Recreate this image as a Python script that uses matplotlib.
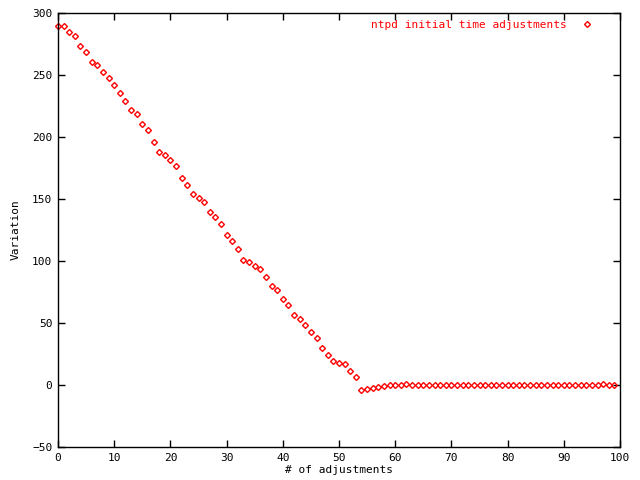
import numpy as np
import matplotlib
matplotlib.use('Agg')
import matplotlib.pyplot as plt

plt.rcParams['font.family'] = ['DejaVu Sans Mono']

# ntpd adjustments, index 0..99
adj_index = list(range(100))
variation = [289.5, 289.5, 284.7, 281.2, 273.0, 268.3, 260.2, 257.8, 252.2, 247.3,
             241.7, 235.2, 228.8, 221.5, 218.3, 210.2, 205.4, 195.7, 187.7, 185.2,
             181.2, 176.4, 166.7, 161.0, 153.8, 150.6, 147.4, 139.3, 135.3, 129.6,
             120.7, 115.9, 109.4, 100.6, 99.0, 95.7, 93.3, 86.9, 79.6, 76.4,
             69.1, 64.3, 56.2, 53.0, 48.1, 42.5, 37.7, 29.6, 24.0, 19.1,
             17.5, 16.7, 11.0, 6.2, -4.3, -3.5, -2.7, -1.9, -1.0, -0.4,
             -0.4, -0.2, 1.2] + [0.0] * 34 + [1.2, 0.0, 0.0]

xticks = list(range(0, 101, 10))
yticks = list(range(-50, 301, 50))

fig = plt.figure(figsize=(6.4, 4.8), dpi=100)
ax = fig.add_axes([58/640, 1 - 447/480, 562/640, 434/480])

ax.plot(adj_index, variation, linestyle='none', marker='D', markersize=3.0,
        markerfacecolor='none', markeredgecolor='#ff0000', markeredgewidth=1.0,
        label='ntpd initial time adjustments', clip_on=False)

ax.set_xlim(0, 100)
ax.set_ylim(-50, 300)
ax.set_xticks(xticks)
ax.set_yticks(yticks)
ax.tick_params(direction='in', length=5, width=1, top=True, right=True,
               labelsize=8, pad=4)
for s in ax.spines.values():
    s.set_linewidth(1)

ax.set_xlabel('# of adjustments', fontsize=8, labelpad=2)
ax.set_ylabel('Variation', fontsize=8, labelpad=8)

ax.legend(loc='upper right', bbox_to_anchor=(0.965, 1.0), frameon=False,
          markerfirst=False, handlelength=1.2, handletextpad=1.2,
          labelcolor='#ff0000', fontsize=8, borderaxespad=0.2)

fig.savefig('out.png', dpi=100)
